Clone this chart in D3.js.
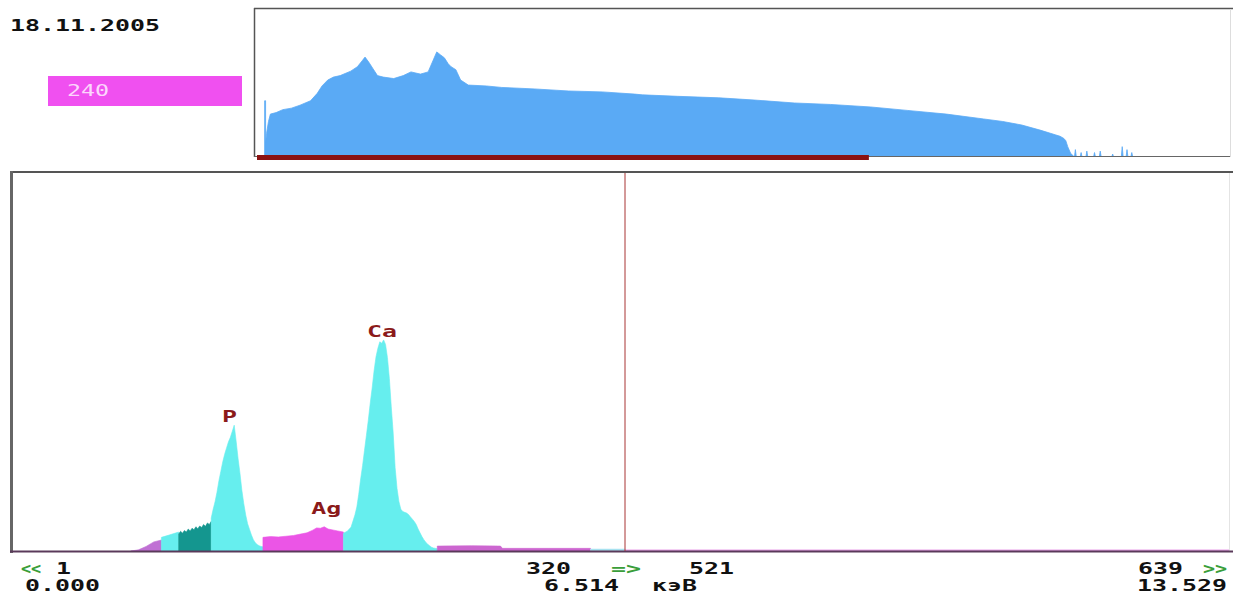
<!DOCTYPE html>
<html><head><meta charset="utf-8">
<script src="https://cdn.jsdelivr.net/npm/d3@7"></script>
<style>body{margin:0;background:#fff}svg{display:block}</style>
</head><body>
<svg id="c" width="1233" height="598"></svg>
<script>
// ---------------- data ----------------
const dateLabel = "18.11.2005";
const scaleLabel = "240";

// overview spectrum (1024 channels), relative intensity 0..100 (100 = full frame)
const ovChannels = [8,8,9,9,10,12,14,20,27,36,45,56,63,68,74,80,87,98,105,110,113,117,121,126,132,143,153,161,171,179,184,188,192,196,200,203,208,213,221,240,256,290,326,361,395,403,440,483,520,562,600,642,680,721,760,780,800,820,830,835,840,844,846,848,850,851,855,856,857,861,862,863,867,868,869,875,876,877,881,882,883,894,895,896,904,905,906,909,910,911,914,915,916];
const ovCounts   = [0,38,38,10,16,24,29,30,32,33,35,38,43,48,52,54,55,58,61,65,67.5,64,60,55,54,53,55,57.5,56,57.5,65,71,69,67,63,61,59,52,48.6,48,47,46,44.6,44,42.5,42,41,40,38.5,36.5,35.5,33.8,31.5,29,25.7,24,21.6,18,16,15,14,12.5,11,7,4,2.5,0,5,0,0,3,0,0,4,0,0,3,0,0,4,0,0,2,0,0,7,0,0,5,0,0,3,0];

// main spectrum (channels 0..640), counts
const mainChannels = [62,66,70,74,78, 78,82,87, 87,88,89,90,91,92,93,94,95,96,97,98,99,100,101,102,103,104,
  104,105,106,107,108,109,110,111,112,113,114,115,116,117,118,119,120,121,122,123,124,125,126,127,128,129,130,131,
  131,135,139,143,147,150,154,157,159,161,163,165,168,170,173,
  173,175,177,179,180,181,182,183,184,185,186,187,188,189,190,191,192,193,194,195,196,197,198,199,200,201,202,203,204,205,206,207,208,209,210,211,212,213,214,215,216,217,218,219,220,222,
  222,240,255,256,280,302, 302,320, 320,640];
const mainCounts = [0,3,12,24,29, 36,42,50, 45,52,47,54,50,58,53,60,56,64,59,66,62,70,65,74,70,78,
  87,110,130,155,185,210,235,255,272,288,300,316,332,290,245,205,160,125,95,72,57,42,30,22,17,14,12,11,
  36,38,37,39,41,44,48,55,61,60,64,58,55,53,50,
  47,52,63,95,116,150,190,225,265,305,345,390,430,475,512,535,552,548,557,545,510,455,380,311,220,165,130,110,104,102,100,96,90,84,78,70,58,48,38,30,23,18,14,10,8,6,
  13,14,13,7,7,7, 5,5, 3,3];

// regions of interest / spectrum segments
const roiStart = [62, 78, 87, 104, 131, 173, 222, 302, 320];
const roiEnd   = [78, 87, 104, 131, 173, 222, 302, 320, 640];
const roiKind  = ["low", "roi", "marked", "roi", "bg", "roi", "tail", "tail2", "rest"];

// peak identification labels
const peakNames   = ["P", "Ag", "Ca"];
const peakLabelCh = [113.5, 164, 193.2];
const peakLabelCt = [340, 98, 565];

const viewRange = [0, 640];
const cursorChannel = 320, cursorCounts = 521, cursorEnergy = "6.514";
const leftChannel = 1, leftEnergy = "0.000";
const rightChannel = 639, rightEnergy = "13.529";
const energyUnit = "кэВ";

// ---------------- drawing ----------------
const svg = d3.select('#c');
svg.append('rect').attr('width', 1233).attr('height', 598).attr('fill', '#fff');
const defs = svg.append('defs');

const FONT = "'DejaVu Sans Mono', monospace";
const SX = 1.557;
function txt(s, x, y, color, opts = {}) {
  return svg.append('text')
    .attr('transform', `translate(${x},${y}) scale(${opts.sx || SX},1)`)
    .attr('font-family', FONT)
    .attr('font-size', opts.size || 16)
    .attr('font-weight', opts.weight || 'bold')
    .attr('text-anchor', opts.anchor || 'start')
    .attr('fill', color)
    .text(s);
}

// ---- overview panel ----
const xo = d3.scaleLinear().domain([0, 1024]).range([257, 1236]);
const yo = d3.scaleLinear().domain([0, 100]).range([157, 9]);
defs.append('clipPath').attr('id', 'ovclip').append('rect')
  .attr('x', 255).attr('y', 9).attr('width', 975).attr('height', 148);
const ovArea = d3.area().x(d => xo(d[0])).y0(yo(0)).y1(d => yo(d[1]));
svg.append('path')
  .datum(ovChannels.map((c, i) => [c, ovCounts[i]]))
  .attr('d', ovArea).attr('fill', '#5aaaf5')
  .attr('stroke', '#5aaaf5').attr('stroke-width', 0.8)
  .attr('clip-path', 'url(#ovclip)');

svg.append('line').attr('x1', 254).attr('x2', 1233).attr('y1', 8.5).attr('y2', 8.5).attr('stroke', '#555').attr('stroke-width', 1.5);
svg.append('line').attr('x1', 254.5).attr('x2', 254.5).attr('y1', 8).attr('y2', 157).attr('stroke', '#555').attr('stroke-width', 1.5);
svg.append('line').attr('x1', 254).attr('x2', 1231).attr('y1', 156.5).attr('y2', 156.5).attr('stroke', '#666').attr('stroke-width', 1);
svg.append('line').attr('x1', 1230.5).attr('x2', 1230.5).attr('y1', 9).attr('y2', 157).attr('stroke', '#ddd').attr('stroke-width', 1);
svg.append('rect').attr('x', xo(viewRange[0])).attr('y', 155)
  .attr('width', xo(viewRange[1]) - xo(viewRange[0])).attr('height', 5).attr('fill', '#8a1212');

// date & scale box
txt(dateLabel, 10, 31, '#111');
svg.append('rect').attr('x', 48).attr('y', 76).attr('width', 194).attr('height', 30).attr('fill', '#f050f0');
txt(scaleLabel, 67, 96, '#fcd6fc', {weight: 'normal', size: 15});

// ---- main panel ----
const xm = d3.scaleLinear().domain(viewRange).range([12, 1238]);
const ym = d3.scaleLinear().domain([0, 1000]).range([551, 172]);
defs.append('clipPath').attr('id', 'mclip').append('rect')
  .attr('x', 13).attr('y', 173).attr('width', 1216).attr('height', 378);

const kindColor = {low: '#c070d4', roi: '#66eeee', marked: '#14968f', bg: '#eb55e6', tail: '#cc66d0', tail2: '#a8e2f0', rest: '#eaa6ea'};
const pts = mainChannels.map((c, i) => [c, mainCounts[i]]);
function regionPoints(s, e) {
  let p = pts.filter(d => d[0] >= s && d[0] <= e);
  while (p.length > 1 && p[0][0] === s && p[1][0] === s) p.shift();
  while (p.length > 1 && p[p.length - 1][0] === e && p[p.length - 2][0] === e) p.pop();
  return p;
}
const mArea = d3.area().x(d => xm(d[0])).y0(ym(0)).y1(d => ym(d[1]));
const g = svg.append('g').attr('clip-path', 'url(#mclip)');
roiStart.forEach((s, i) => {
  g.append('path').datum(regionPoints(s, roiEnd[i]))
    .attr('d', mArea).attr('fill', kindColor[roiKind[i]])
    .attr('stroke', kindColor[roiKind[i]]).attr('stroke-width', 0.6);
});

// frame
svg.append('line').attr('x1', 10).attr('x2', 1233).attr('y1', 172).attr('y2', 172).attr('stroke', '#555').attr('stroke-width', 2);
svg.append('line').attr('x1', 11.5).attr('x2', 11.5).attr('y1', 171).attr('y2', 553).attr('stroke', '#666').attr('stroke-width', 3);
svg.append('line').attr('x1', 1229.5).attr('x2', 1229.5).attr('y1', 173).attr('y2', 551).attr('stroke', '#e4e4e4').attr('stroke-width', 1);
svg.append('line').attr('x1', 10).attr('x2', 1233).attr('y1', 551.5).attr('y2', 551.5).attr('stroke', '#5a3a5a').attr('stroke-width', 2);

// cursor
svg.append('line').attr('x1', xm(cursorChannel)).attr('x2', xm(cursorChannel))
  .attr('y1', 173).attr('y2', 551).attr('stroke', '#a83434').attr('stroke-width', 1);

// peak labels
peakNames.forEach((n, i) => {
  txt(n, xm(peakLabelCh[i]), ym(peakLabelCt[i]), '#8b1a1a', {anchor: 'middle'});
});

// footer
const GREEN = '#3a9e3a';
txt('<<', 21, 574, GREEN, {sx: 1.05});
txt(String(leftChannel), 56, 574, '#111');
txt(leftEnergy, 25, 591, '#111');
txt(String(cursorChannel), 526, 574, '#111');
txt('=>', 611, 574, GREEN);
txt(String(cursorCounts), 689, 574, '#111');
txt(cursorEnergy, 544, 591, '#111');
txt(energyUnit, 652, 591, '#111');
txt(String(rightChannel), 1138, 574, '#111');
txt('>>', 1203, 574, GREEN, {sx: 1.25});
txt(rightEnergy, 1137, 591, '#111');
</script>
</body></html>
